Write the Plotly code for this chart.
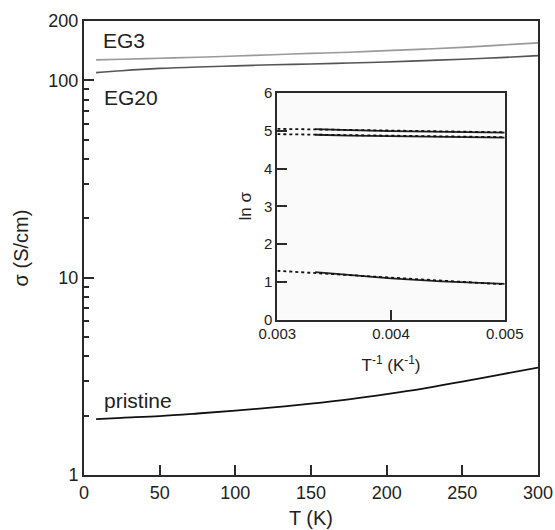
import plotly.graph_objects as go
import numpy as np

# ---------------- data ----------------
T = [8, 25, 50, 75, 100, 125, 150, 175, 200, 225, 250, 275, 300]
sigma_EG3 = [127, 128, 129.5, 131, 133, 135, 137, 139, 141.5, 144, 147, 151, 155]
sigma_EG20 = [109.5, 112, 115, 117, 118.5, 120, 121, 122.5, 124, 126, 128, 130.5, 133.5]
sigma_pristine = [1.92, 1.95, 1.99, 2.05, 2.12, 2.20, 2.30, 2.42, 2.57, 2.75, 2.97, 3.23, 3.50]

x_ticks = [0, 50, 100, 150, 200, 250, 300]
y_ticks = [1, 10, 100, 200]
y_minor = [2, 3, 4, 5, 6, 7, 8, 9, 20, 30, 40, 50, 60, 70, 80, 90]

# inset: linear fit lines (ln sigma vs 1/T)
fit_x = [0.003, 0.005]
fit_EG3 = [5.05, 4.96]
fit_EG20 = [4.91, 4.83]
fit_pristine = [1.29, 0.93]
inset_x_ticks = [0.003, 0.004, 0.005]
inset_y_ticks = [0, 1, 2, 3, 4, 5, 6]

FONT = "Liberation Sans, Arial, sans-serif"
AX = "#2a2a2a"

fig = go.Figure()

# main curves
fig.add_trace(go.Scatter(x=T, y=sigma_EG3, mode="lines", line=dict(color="#9a9a9a", width=1.6, shape="spline"),
                         showlegend=False, xaxis="x", yaxis="y"))
fig.add_trace(go.Scatter(x=T, y=sigma_EG20, mode="lines", line=dict(color="#555555", width=1.6, shape="spline"),
                         showlegend=False, xaxis="x", yaxis="y"))
fig.add_trace(go.Scatter(x=T, y=sigma_pristine, mode="lines", line=dict(color="#111111", width=1.8, shape="spline"),
                         showlegend=False, xaxis="x", yaxis="y"))

# inset data: ln(sigma) vs 1/T for T >= 200
T_arr = np.array(T, dtype=float)
sel = T_arr >= 200
inv_T = 1.0 / T_arr[sel]
for s in (sigma_EG3, sigma_EG20, sigma_pristine):
    fig.add_trace(go.Scatter(x=inv_T, y=np.log(np.array(s)[sel]), mode="lines",
                             line=dict(color="#222222", width=1.8),
                             showlegend=False, xaxis="x2", yaxis="y2"))
for f in (fit_EG3, fit_EG20, fit_pristine):
    fig.add_trace(go.Scatter(x=fit_x, y=f, mode="lines",
                             line=dict(color="#111111", width=1.8, dash="dot"),
                             showlegend=False, xaxis="x2", yaxis="y2"))

ix0, ix1 = 0.4258, 0.9267
iy0, iy1 = 0.3425, 0.8414

fig.update_layout(
    width=555, height=530,
    margin=dict(l=84, r=17, t=21, b=55),
    paper_bgcolor="white", plot_bgcolor="rgba(0,0,0,0)",
    font=dict(family=FONT, color="#222222", size=18),
    showlegend=False,
    xaxis=dict(domain=[0, 1], range=[0, 300], tickvals=x_ticks, ticks="inside", ticklen=10, tickwidth=1.5,
               tickcolor=AX, showline=True, linecolor=AX, linewidth=2, mirror=True, showgrid=False,
               zeroline=False, tickfont=dict(size=18), automargin=False,
               title=dict(text="T (K)", font=dict(size=20), standoff=9)),
    yaxis=dict(domain=[0, 1], type="log", range=[0, np.log10(200)], tickvals=y_ticks,
               ticktext=[str(v) for v in y_ticks], ticks="inside", ticklen=10, tickwidth=1.5, tickcolor=AX,
               minor=dict(tickvals=y_minor, ticks="inside", ticklen=5, tickwidth=1.5, tickcolor=AX),
               showline=True, linecolor=AX, linewidth=2, mirror=True, showgrid=False, zeroline=False,
               tickfont=dict(size=18), automargin=False,
               title=dict(text="σ (S/cm)", font=dict(size=20), standoff=14)),
    xaxis2=dict(domain=[ix0, ix1], anchor="y2", range=[0.003, 0.005], tickvals=inset_x_ticks,
                ticktext=["0.003", "0.004", "0.005"], ticks="inside", ticklen=10, tickwidth=1.5, tickcolor=AX,
                showline=True, linecolor=AX, linewidth=1.8, mirror=True, showgrid=False, zeroline=False,
                tickfont=dict(size=15), automargin=False,
                title=dict(text="T<sup>-1</sup> (K<sup>-1</sup>)", font=dict(size=17), standoff=18)),
    yaxis2=dict(domain=[iy0, iy1], anchor="x2", range=[0, 6], tickvals=inset_y_ticks, ticks="inside",
                ticklen=10, tickwidth=1.5, tickcolor=AX, showline=True, linecolor=AX, linewidth=1.8,
                mirror=True, showgrid=False, zeroline=False, tickfont=dict(size=15), automargin=False,
                title=dict(text="ln σ", font=dict(size=17), standoff=8)),
    shapes=[dict(type="rect", xref="paper", yref="paper", x0=ix0, x1=ix1, y0=iy0, y1=iy1,
                 fillcolor="#fafafa", line=dict(width=0), layer="below")],
    annotations=[
        dict(text="EG3", x=0.038, y=0.957, xref="paper", yref="paper", xanchor="left", yanchor="middle",
             showarrow=False, font=dict(size=21)),
        dict(text="EG20", x=0.04, y=0.832, xref="paper", yref="paper", xanchor="left", yanchor="middle",
             showarrow=False, font=dict(size=21)),
        dict(text="pristine", x=0.04, y=0.165, xref="paper", yref="paper", xanchor="left", yanchor="middle",
             showarrow=False, font=dict(size=21)),
    ],
)

fig.write_html("out.html", config={"displayModeBar": False},
               post_script="document.body.style.margin='0';")
